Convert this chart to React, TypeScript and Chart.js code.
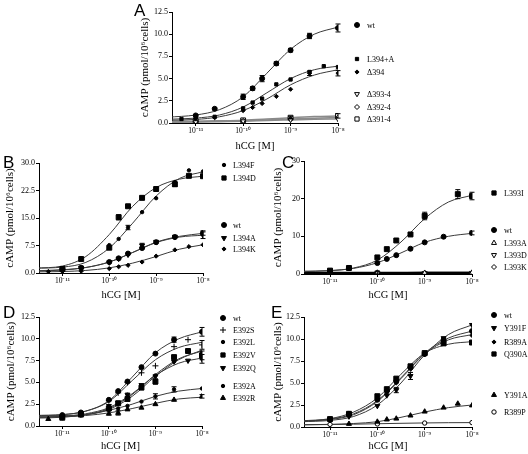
import React, { useEffect, useRef } from 'react';
import { Chart, registerables } from 'chart.js';
Chart.register(...registerables);

// ---------- shared axes ----------
const DOSES = [-11.3, -11, -10.6, -10, -9.8, -9.6, -9.3, -9, -8.6, -8.3, -8];
const CURVE_X = [-11.6, -11, -10.5, -10, -9.5, -9, -8.5, -8];
const X_TICKS = [-11, -10, -9, -8];
const X_TICK_LABELS = ['10⁻¹¹', '10⁻¹⁰', '10⁻⁹', '10⁻⁸'];
const Y_TICKS_125 = [0, 2.5, 5, 7.5, 10, 12.5];
const Y_LABELS_125 = ['0.0', '2.5', '5.0', '7.5', '10.0', '12.5'];
const Y_TICKS_30B = [0, 7.5, 15, 22.5, 30];
const Y_LABELS_30B = ['0.0', '7.5', '15.0', '22.5', '30.0'];
const Y_TICKS_30C = [0, 10, 20, 30];
const Y_LABELS_30C = ['0', '10', '20', '30'];

// ---------- Panel A ----------
const A_WT = [null, 0.85, 1.6, 2.95, 3.9, 5.0, 6.7, 8.2, 9.8, null, 10.7];
const A_WT_ERR = [0, 0.1, 0.1, 0.3, 0.2, 0.35, 0.2, 0.2, 0.3, 0, 0.45];
const A_WT_CURVE = [0.65, 0.9, 1.5, 2.95, 5.6, 8.3, 10.0, 10.8];
const A_L394PA = [0.45, 0.65, 0.7, 1.65, 2.3, 2.75, 4.35, 4.9, 5.75, 6.4, 6.3];
const A_L394PA_CURVE = [0.42, 0.55, 0.9, 1.8, 3.4, 5.0, 6.0, 6.4];
const A_D394 = [null, 0.5, 0.6, 1.4, 1.75, 2.2, 3.0, 3.8, 5.6, null, 5.6];
const A_D394_ERR = [0, 0, 0, 0, 0, 0, 0, 0, 0.25, 0, 0.3];
const A_D394_CURVE = [0.3, 0.4, 0.7, 1.4, 2.7, 4.3, 5.4, 6.0];
const A_D3934 = [null, 0.1, null, 0.2, null, null, null, 0.35, null, null, 0.45];
const A_D3934_CURVE = [0.08, 0.1, 0.15, 0.2, 0.28, 0.35, 0.42, 0.45];
const A_D3924 = [null, 0.15, null, 0.25, null, null, null, 0.45, null, null, 0.6];
const A_D3924_CURVE = [0.12, 0.15, 0.2, 0.26, 0.35, 0.45, 0.53, 0.6];
const A_D3914 = [null, 0.2, null, 0.3, null, null, null, 0.6, null, null, 0.8];
const A_D3914_ERR = [0, 0, 0, 0, 0, 0, 0, 0.15, 0, 0, 0.25];
const A_D3914_CURVE = [0.18, 0.2, 0.25, 0.32, 0.45, 0.6, 0.72, 0.78];

// ---------- Panel B ----------
const B_L394F = [null, 0.9, 4.0, 7.6, 9.3, 12.4, 16.6, 20.4, 24.8, 28.0, 27.7];
const B_L394F_ERR = [0, 0, 0, 0, 0, 0.6, 0, 0, 0, 0, 0];
const B_L394F_CURVE = [1.3, 1.6, 2.9, 6.8, 13.6, 21.0, 25.8, 27.6];
const B_L394D = [null, 1.1, 3.8, 6.9, 15.2, 18.2, 20.5, 22.9, 24.2, 26.5, 26.4];
const B_L394D_ERR = [0, 0, 0, 0, 0.7, 0, 0.5, 0.5, 0.6, 0, 0];
const B_L394D_CURVE = [1.3, 1.9, 4.5, 10.5, 18.2, 23.3, 25.6, 26.4];
const B_WT = [null, 1.0, 1.4, 3.0, 4.0, 5.3, 6.8, 8.4, 9.8, null, 10.9];
const B_WT_ERR = [0, 0, 0, 0, 0, 0, 0, 0, 0, 0, 0.6];
const B_WT_CURVE = [0.6, 0.9, 1.5, 3.0, 5.6, 8.4, 10.0, 10.8];
const B_L394A = [null, 0.8, 1.5, 2.9, 3.9, 5.0, 7.5, 8.5, 9.9, null, 10.3];
const B_L394A_ERR = [0, 0, 0, 0, 0, 0, 0.6, 0, 0, 0, 0.9];
const B_L394A_CURVE = [0.5, 0.8, 1.5, 3.0, 5.6, 8.3, 9.8, 10.3];
const B_L394K = [0.4, 0.4, 0.5, 1.2, 1.7, 2.1, 3.0, 4.6, 6.3, 7.2, 7.7];
const B_L394K_CURVE = [0.3, 0.4, 0.7, 1.4, 2.7, 4.5, 6.5, 7.7];

// ---------- Panel C ----------
const C_L393I = [null, 0.9, 1.6, 4.4, 6.6, 8.9, 10.5, 15.4, null, 21.2, 20.7];
const C_L393I_ERR = [0, 0, 0, 0, 0, 0, 0, 1.0, 0, 1.2, 1.0];
const C_L393I_CURVE = [0.75, 0.9, 1.6, 3.7, 8.5, 14.7, 19.1, 20.9];
const C_WT = [null, 0.7, 1.6, 2.9, 4.0, 5.0, 6.7, 8.4, 9.9, null, 10.9];
const C_WT_ERR = [0, 0, 0, 0, 0, 0, 0, 0, 0, 0, 0.5];
const C_WT_CURVE = [0.6, 0.9, 1.5, 3.0, 5.6, 8.4, 10.0, 10.8];
const C_L393A = [null, 0.3, null, 0.35, null, null, null, 0.3, null, null, 0.35];
const C_L393A_CURVE = [0.3, 0.3, 0.3, 0.32, 0.33, 0.33, 0.34, 0.35];
const C_L393D = [null, 0.2, null, 0.3, null, null, null, 0.25, null, null, 0.3];
const C_L393D_CURVE = [0.2, 0.22, 0.24, 0.25, 0.26, 0.27, 0.28, 0.3];
const C_L393K = [null, 0.25, null, 0.4, null, null, null, 0.3, null, null, 0.3];
const C_L393K_ERR = [0, 0, 0, 0.4, 0, 0, 0, 0, 0, 0, 0];
const C_L393K_CURVE = [0.25, 0.26, 0.27, 0.28, 0.29, 0.3, 0.3, 0.3];

// ---------- Panel D ----------
const D_WT = [null, 1.25, 1.55, 3.0, 4.0, 5.1, 6.75, 8.3, 9.9, null, 10.8];
const D_WT_ERR = [0, 0, 0, 0, 0, 0, 0, 0, 0.3, 0, 0.5];
const D_WT_CURVE = [1.2, 1.3, 1.7, 2.9, 5.6, 8.4, 10.0, 10.8];
const D_E392S = [null, 1.1, 1.4, 2.9, 3.8, 5.0, 6.1, 6.9, 9.1, 9.9, 9.3];
const D_E392S_ERR = [0, 0, 0, 0, 0, 0, 0, 0, 0, 0, 0.5];
const D_E392S_CURVE = [1.2, 1.3, 1.7, 2.8, 5.2, 7.6, 9.0, 9.6];
const D_E392L = [null, 1.0, 1.3, 2.2, 2.6, 3.6, 4.6, 5.8, 7.4, null, 8.4];
const D_E392L_CURVE = [1.0, 1.1, 1.3, 2.0, 3.6, 5.9, 7.7, 8.6];
const D_E392V = [null, 0.95, 1.35, 2.0, 2.6, 3.1, 4.4, 5.1, 7.9, 8.6, 8.1];
const D_E392V_ERR = [0, 0, 0, 0, 0, 0, 0, 0.3, 0, 0, 0.5];
const D_E392V_CURVE = [0.9, 1.0, 1.3, 1.9, 3.4, 5.7, 7.6, 8.7];
const D_E392Q = [null, 1.0, 1.3, 2.3, 2.7, 3.6, 4.7, 5.7, 7.4, 7.5, 7.7];
const D_E392Q_ERR = [0, 0, 0, 0, 0, 0, 0, 0, 0, 0, 0.5];
const D_E392Q_CURVE = [1.0, 1.1, 1.4, 2.1, 3.7, 5.8, 7.2, 7.8];
const D_E392A = [null, 1.1, 1.3, 1.8, 2.0, 2.3, 2.8, 3.4, 4.2, null, 4.3];
const D_E392A_ERR = [0, 0, 0, 0, 0, 0, 0, 0.3, 0.3, 0, 0];
const D_E392A_CURVE = [1.1, 1.2, 1.3, 1.8, 2.5, 3.4, 4.0, 4.3];
const D_E392R = [0.8, 1.0, 1.2, 1.4, 1.5, 1.9, 2.1, 2.5, 3.0, null, 3.4];
const D_E392R_ERR = [0, 0, 0, 0, 0.25, 0, 0, 0, 0, 0, 0.2];
const D_E392R_CURVE = [1.0, 1.05, 1.2, 1.5, 2.0, 2.6, 3.1, 3.3];

// ---------- Panel E ----------
const E_WT = [null, 0.85, 1.5, 3.1, 4.1, 5.2, 6.8, 8.3, 9.9, null, 10.9];
const E_WT_CURVE = [0.65, 0.9, 1.5, 3.0, 5.6, 8.4, 10.1, 10.9];
const E_Y391F = [null, 0.8, 1.2, 2.4, 3.6, 4.2, 5.8, 8.3, 10.1, null, 11.6];
const E_Y391F_ERR = [0, 0, 0, 0, 0, 0.3, 0.4, 0, 0, 0, 0];
const E_Y391F_CURVE = [0.6, 0.75, 1.2, 2.5, 5.0, 8.2, 10.5, 11.6];
const E_R389A = [null, 0.85, 1.4, 3.2, 4.0, 5.0, 6.6, 8.4, 9.8, null, 10.4];
const E_R389A_CURVE = [0.65, 0.85, 1.4, 2.9, 5.5, 8.3, 9.9, 10.5];
const E_Q390A = [null, 0.9, 1.5, 3.5, 4.3, 5.5, 6.9, 8.4, 9.5, null, 9.6];
const E_Q390A_CURVE = [0.7, 0.95, 1.7, 3.3, 6.0, 8.4, 9.4, 9.7];
const E_Y391A = [null, null, 0.35, 0.6, 0.85, 0.95, 1.3, 1.75, 2.2, 2.65, 2.45];
const E_Y391A_CURVE = [0.25, 0.3, 0.4, 0.6, 1.1, 1.7, 2.2, 2.5];
const E_R389P = [null, 0.3, null, 0.35, null, null, null, 0.45, null, null, 0.5];
const E_R389P_CURVE = [0.25, 0.28, 0.32, 0.37, 0.42, 0.46, 0.49, 0.5];

// ---------- styles / layout ----------
const SERIF = "'Liberation Serif', 'Times New Roman', serif";
const SANS = "'Liberation Sans', Arial, sans-serif";

type Series = {
  label: string; pts: (number | null)[]; err?: number[]; curve: number[];
  style: string; r: number; fill: boolean; rot?: number; line?: string; lw?: number;
};

type PanelCfg = {
  letter: string; letterX: number; letterY: number;
  left: number; top: number; w: number; h: number;
  yW: number; xH: number; padTop: number; padRight: number; yTitlePad: number; xTitlePad: number;
  xMin: number; yMax: number; yTicks: number[]; yLabels: string[];
  legendMX: number; legendTX: number; legendY: number[];
  series: Series[];
};

const GRAY = '#8a8a8a';
const LINE = '#3a3a3a';

const PANELS: PanelCfg[] = [
  {
    letter: 'A', letterX: 134, letterY: 16,
    left: 120, top: 0, w: 408, h: 154, yW: 52, xH: 31, padTop: 12, padRight: 190, yTitlePad: 18.4, xTitlePad: 1,
    xMin: -11.5, yMax: 12.5, yTicks: Y_TICKS_125, yLabels: Y_LABELS_125,
    legendMX: 357, legendTX: 367, legendY: [25, 59, 72, 94, 107, 119],
    series: [
      { label: 'wt', pts: A_WT, err: A_WT_ERR, curve: A_WT_CURVE, style: 'circle', r: 2.5, fill: true },
      { label: 'L394+A', pts: A_L394PA, curve: A_L394PA_CURVE, style: 'rect', r: 2.3, fill: true },
      { label: 'Δ394', pts: A_D394, err: A_D394_ERR, curve: A_D394_CURVE, style: 'rectRot', r: 2.1, fill: true },
      { label: 'Δ393-4', pts: A_D3934, curve: A_D3934_CURVE, style: 'triangle', r: 2.8, fill: false, rot: 180, line: GRAY, lw: 1.5 },
      { label: 'Δ392-4', pts: A_D3924, curve: A_D3924_CURVE, style: 'rectRot', r: 2.5, fill: false, line: GRAY, lw: 1.5 },
      { label: 'Δ391-4', pts: A_D3914, err: A_D3914_ERR, curve: A_D3914_CURVE, style: 'rect', r: 3.4, fill: false, line: GRAY, lw: 1.5 },
    ],
  },
  {
    letter: 'B', letterX: 3, letterY: 168,
    left: 0, top: 150, w: 264, h: 152, yW: 39, xH: 29, padTop: 13, padRight: 61, yTitlePad: 3.4, xTitlePad: 0,
    xMin: -11.5, yMax: 30, yTicks: Y_TICKS_30B, yLabels: Y_LABELS_30B,
    legendMX: 224, legendTX: 233, legendY: [165, 178, 225, 238, 249],
    series: [
      { label: 'L394F', pts: B_L394F, err: B_L394F_ERR, curve: B_L394F_CURVE, style: 'circle', r: 1.7, fill: true },
      { label: 'L394D', pts: B_L394D, err: B_L394D_ERR, curve: B_L394D_CURVE, style: 'rect', r: 3.5, fill: true },
      { label: 'wt', pts: B_WT, err: B_WT_ERR, curve: B_WT_CURVE, style: 'circle', r: 2.5, fill: true },
      { label: 'L394A', pts: B_L394A, err: B_L394A_ERR, curve: B_L394A_CURVE, style: 'triangle', r: 2.9, fill: true, rot: 180 },
      { label: 'L394K', pts: B_L394K, curve: B_L394K_CURVE, style: 'rectRot', r: 2.1, fill: true },
    ],
  },
  {
    letter: 'C', letterX: 282, letterY: 168,
    left: 264, top: 150, w: 264, h: 152, yW: 40, xH: 28, padTop: 11, padRight: 56, yTitlePad: 7.4, xTitlePad: 0,
    xMin: -11.55, yMax: 30, yTicks: Y_TICKS_30C, yLabels: Y_LABELS_30C,
    legendMX: 494, legendTX: 504, legendY: [193, 230, 243, 255, 267],
    series: [
      { label: 'L393I', pts: C_L393I, err: C_L393I_ERR, curve: C_L393I_CURVE, style: 'rect', r: 3.5, fill: true },
      { label: 'wt', pts: C_WT, err: C_WT_ERR, curve: C_WT_CURVE, style: 'circle', r: 2.5, fill: true },
      { label: 'L393A', pts: C_L393A, curve: C_L393A_CURVE, style: 'triangle', r: 2.9, fill: false, line: '#000', lw: 2 },
      { label: 'L393D', pts: C_L393D, curve: C_L393D_CURVE, style: 'triangle', r: 2.9, fill: false, rot: 180, line: '#000', lw: 2 },
      { label: 'L393K', pts: C_L393K, err: C_L393K_ERR, curve: C_L393K_CURVE, style: 'rectRot', r: 2.5, fill: false, line: '#000', lw: 2 },
    ],
  },
  {
    letter: 'D', letterX: 3, letterY: 318,
    left: 0, top: 304, w: 264, h: 150, yW: 39, xH: 28, padTop: 13, padRight: 62, yTitlePad: 4.4, xTitlePad: 1,
    xMin: -11.5, yMax: 12.5, yTicks: Y_TICKS_125, yLabels: Y_LABELS_125,
    legendMX: 223, legendTX: 233, legendY: [318, 330, 342, 355, 368, 386, 398],
    series: [
      { label: 'wt', pts: D_WT, err: D_WT_ERR, curve: D_WT_CURVE, style: 'circle', r: 2.5, fill: true },
      { label: 'E392S', pts: D_E392S, err: D_E392S_ERR, curve: D_E392S_CURVE, style: 'cross', r: 3, fill: true },
      { label: 'E392L', pts: D_E392L, curve: D_E392L_CURVE, style: 'circle', r: 1.7, fill: true },
      { label: 'E392V', pts: D_E392V, err: D_E392V_ERR, curve: D_E392V_CURVE, style: 'rect', r: 3.5, fill: true },
      { label: 'E392Q', pts: D_E392Q, err: D_E392Q_ERR, curve: D_E392Q_CURVE, style: 'triangle', r: 2.9, fill: true, rot: 180 },
      { label: 'E392A', pts: D_E392A, err: D_E392A_ERR, curve: D_E392A_CURVE, style: 'circle', r: 1.7, fill: true },
      { label: 'E392R', pts: D_E392R, err: D_E392R_ERR, curve: D_E392R_CURVE, style: 'triangle', r: 2.9, fill: true },
    ],
  },
  {
    letter: 'E', letterX: 271, letterY: 318,
    left: 264, top: 304, w: 264, h: 150, yW: 40, xH: 27, padTop: 13, padRight: 56, yTitlePad: 7.4, xTitlePad: 1,
    xMin: -11.55, yMax: 12.5, yTicks: Y_TICKS_125, yLabels: Y_LABELS_125,
    legendMX: 494, legendTX: 504, legendY: [315, 328, 342, 354, 395, 412],
    series: [
      { label: 'wt', pts: E_WT, curve: E_WT_CURVE, style: 'circle', r: 2.5, fill: true },
      { label: 'Y391F', pts: E_Y391F, err: E_Y391F_ERR, curve: E_Y391F_CURVE, style: 'triangle', r: 2.9, fill: true, rot: 180 },
      { label: 'R389A', pts: E_R389A, curve: E_R389A_CURVE, style: 'rectRot', r: 2.1, fill: true },
      { label: 'Q390A', pts: E_Q390A, curve: E_Q390A_CURVE, style: 'rect', r: 3.5, fill: true },
      { label: 'Y391A', pts: E_Y391A, curve: E_Y391A_CURVE, style: 'triangle', r: 2.9, fill: true },
      { label: 'R389P', pts: E_R389P, curve: E_R389P_CURVE, style: 'circle', r: 2.2, fill: false },
    ],
  },
];

function drawMarker(ctx: CanvasRenderingContext2D, style: string, x: number, y: number, r: number, fill: boolean, rotDeg = 0) {
  ctx.save();
  ctx.beginPath();
  ctx.lineWidth = 1;
  ctx.strokeStyle = '#000';
  let a = (rotDeg * Math.PI) / 180;
  if (style === 'cross') {
    ctx.moveTo(x - r, y); ctx.lineTo(x + r, y);
    ctx.moveTo(x, y - r); ctx.lineTo(x, y + r);
    ctx.stroke();
    ctx.restore();
    return;
  }
  if (style === 'circle') ctx.arc(x, y, r, 0, Math.PI * 2);
  else if (style === 'rect') { const s = r * Math.SQRT1_2; ctx.rect(x - s, y - s, 2 * s, 2 * s); }
  else if (style === 'rectRot') { ctx.moveTo(x, y - r); ctx.lineTo(x + r, y); ctx.lineTo(x, y + r); ctx.lineTo(x - r, y); ctx.closePath(); }
  else if (style === 'triangle') {
    ctx.moveTo(x + Math.sin(a) * r, y - Math.cos(a) * r);
    a += (2 * Math.PI) / 3; ctx.lineTo(x + Math.sin(a) * r, y - Math.cos(a) * r);
    a += (2 * Math.PI) / 3; ctx.lineTo(x + Math.sin(a) * r, y - Math.cos(a) * r);
    ctx.closePath();
  }
  ctx.fillStyle = fill ? '#000' : '#fff';
  ctx.fill();
  ctx.stroke();
  ctx.restore();
}

function Panel({ cfg }: { cfg: PanelCfg }) {
  const ref = useRef<HTMLCanvasElement | null>(null);
  useEffect(() => {
    if (!ref.current) return;
    const datasets: any[] = [];
    cfg.series.forEach((s) => {
      datasets.push({
        type: 'scatter',
        label: s.label,
        data: DOSES.map((x, i) => ({ x, y: s.pts[i] })),
        errors: s.err,
        pointStyle: s.style,
        pointRadius: s.r,
        pointRotation: s.rot || 0,
        pointBackgroundColor: s.fill ? '#000' : '#fff',
        pointBorderColor: '#000',
        pointBorderWidth: 1,
        showLine: false,
        order: 0,
      });
      datasets.push({
        type: 'scatter',
        label: s.label + ' fit',
        data: CURVE_X.map((x, i) => ({ x, y: s.curve[i] })),
        showLine: true,
        pointRadius: 0,
        borderColor: s.line || LINE,
        borderWidth: s.lw || 1,
        cubicInterpolationMode: 'monotone',
        order: 1,
      });
    });

    const decor = {
      id: 'decor',
      afterDatasetsDraw(chart: any) {
        const ctx = chart.ctx as CanvasRenderingContext2D;
        const ys = chart.scales.y;
        ctx.save();
        ctx.strokeStyle = '#000';
        ctx.lineWidth = 1;
        chart.data.datasets.forEach((ds: any, di: number) => {
          if (!ds.errors) return;
          const meta = chart.getDatasetMeta(di);
          ds.data.forEach((p: any, i: number) => {
            const e = ds.errors[i];
            if (p.y == null || !e) return;
            const el = meta.data[i];
            if (!el) return;
            const x = el.x;
            const y1 = ys.getPixelForValue(p.y + e);
            const y2 = ys.getPixelForValue(p.y - e);
            ctx.beginPath();
            ctx.moveTo(x, y1); ctx.lineTo(x, y2);
            ctx.moveTo(x - 2.5, y1); ctx.lineTo(x + 2.5, y1);
            ctx.moveTo(x - 2.5, y2); ctx.lineTo(x + 2.5, y2);
            ctx.stroke();
          });
        });
        ctx.restore();
      },
      afterDraw(chart: any) {
        const ctx = chart.ctx as CanvasRenderingContext2D;
        ctx.save();
        ctx.fillStyle = '#000';
        ctx.font = `17px ${SANS}`;
        ctx.textBaseline = 'alphabetic';
        ctx.textAlign = 'left';
        ctx.fillText(cfg.letter, cfg.letterX - cfg.left, cfg.letterY - cfg.top);
        ctx.font = `8px ${SERIF}`;
        ctx.textBaseline = 'middle';
        cfg.series.forEach((s, i) => {
          const y = cfg.legendY[i] - cfg.top;
          drawMarker(ctx, s.style, cfg.legendMX - cfg.left, y, Math.min(s.r, 3), s.fill, s.rot || 0);
          ctx.fillStyle = '#000';
          ctx.fillText(s.label, cfg.legendTX - cfg.left, y + 0.5);
        });
        ctx.restore();
      },
    };

    const tickFont = { family: SERIF, size: 8 };
    const chart = new Chart(ref.current, {
      type: 'scatter',
      data: { datasets },
      options: {
        animation: false,
        responsive: false,
        maintainAspectRatio: false,
        layout: { padding: { top: cfg.padTop, right: cfg.padRight, left: 0, bottom: 0 } },
        plugins: { legend: { display: false }, tooltip: { enabled: false } },
        scales: {
          x: {
            type: 'linear',
            min: cfg.xMin,
            max: -8,
            afterBuildTicks: (s: any) => { s.ticks = X_TICKS.map((v) => ({ value: v })); },
            afterFit: (s: any) => { s.height = cfg.xH; },
            grid: { display: true, drawOnChartArea: false, drawTicks: true, tickLength: 3, color: '#000' },
            border: { display: true, color: '#000', width: 1 },
            ticks: {
              autoSkip: false, maxRotation: 0, minRotation: 0, padding: 1, color: '#000', font: { family: SERIF, size: 7.5 },
              callback: (_v: any, i: number) => X_TICK_LABELS[i],
            },
            title: { display: true, text: 'hCG [M]', color: '#000', font: { family: SERIF, size: 10.5 }, padding: { top: 0, bottom: cfg.xTitlePad } },
          },
          y: {
            type: 'linear',
            min: 0,
            max: cfg.yMax,
            afterBuildTicks: (s: any) => { s.ticks = cfg.yTicks.map((v) => ({ value: v })); },
            afterFit: (s: any) => { s.width = cfg.yW; },
            grid: { display: true, drawOnChartArea: false, drawTicks: true, tickLength: 3, color: '#000' },
            border: { display: true, color: '#000', width: 1 },
            ticks: {
              autoSkip: false, padding: 1, color: '#000', font: tickFont,
              callback: (_v: any, i: number) => cfg.yLabels[i],
            },
            title: { display: true, text: 'cAMP (pmol/10⁶cells)', color: '#000', font: { family: SERIF, size: 11 }, padding: { top: cfg.yTitlePad, bottom: 0 } },
          },
        },
      } as any,
      plugins: [decor as any],
    });
    return () => chart.destroy();
  }, [cfg]);

  return (
    <canvas
      ref={ref}
      width={cfg.w}
      height={cfg.h}
      style={{ position: 'absolute', left: cfg.left, top: cfg.top, width: cfg.w, height: cfg.h }}
    />
  );
}

export default function App() {
  return (
    <div style={{ position: 'absolute', left: 0, top: 0, width: 528, height: 454, background: '#fff', overflow: 'hidden' }}>
      {PANELS.map((p) => (
        <Panel key={p.letter} cfg={p} />
      ))}
    </div>
  );
}
